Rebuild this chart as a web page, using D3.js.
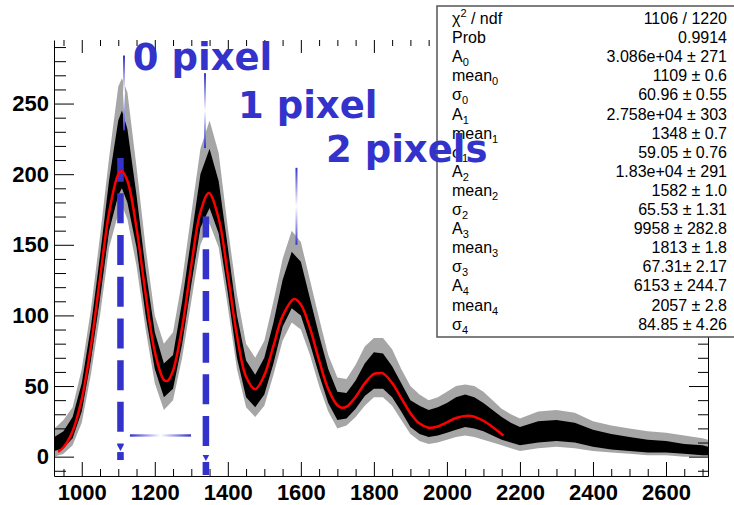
<!DOCTYPE html>
<html>
<head>
<meta charset="utf-8">
<script src="https://cdn.jsdelivr.net/npm/d3@7"></script>
<style>
  body { margin: 0; background: #fff; }
  svg { display: block; }
</style>
</head>
<body>
<svg id="chart" width="734" height="505"></svg>
<script>
// histogram envelope (counts): outer spikes and dense core
const histX       = [925, 950, 975, 1000, 1025, 1050, 1075, 1100, 1110, 1125, 1150, 1175, 1200, 1225, 1250, 1275, 1300, 1325, 1350, 1375, 1400, 1425, 1450, 1475, 1500, 1525, 1550, 1575, 1600, 1625, 1650, 1675, 1700, 1725, 1750, 1775, 1800, 1825, 1850, 1875, 1900, 1925, 1950, 1975, 2000, 2025, 2050, 2075, 2100, 2125, 2150, 2175, 2200, 2250, 2300, 2350, 2400, 2450, 2500, 2550, 2600, 2650, 2700, 2715];
const histSpikeLo = [0, 2, 8, 24, 58, 100, 148, 172, 178, 168, 135, 90, 52, 33, 40, 70, 110, 150, 165, 148, 106, 62, 35, 28, 36, 58, 82, 95, 90, 72, 50, 32, 20, 22, 28, 36, 42, 42, 36, 26, 16, 11, 9, 10, 12, 14, 15, 14, 12, 10, 8, 6, 4, 6, 7, 6, 4, 3, 2, 1, 1, 0, 0, 0];
const histLo      = [4, 6, 13, 32, 68, 112, 160, 185, 190, 180, 148, 100, 62, 42, 48, 80, 122, 162, 176, 158, 116, 70, 42, 35, 44, 66, 92, 105, 100, 80, 58, 38, 26, 27, 34, 43, 48, 48, 42, 32, 21, 16, 14, 15, 17, 19, 21, 20, 18, 15, 12, 10, 8, 10, 11, 10, 7, 5, 4, 3, 3, 2, 1, 1];
const histHi      = [14, 18, 28, 52, 92, 142, 196, 238, 245, 232, 185, 132, 88, 66, 72, 110, 155, 200, 218, 195, 148, 100, 68, 58, 70, 95, 125, 145, 138, 112, 86, 62, 46, 45, 54, 66, 74, 73, 64, 52, 40, 36, 33, 35, 38, 42, 44, 42, 38, 33, 28, 24, 21, 25, 26, 24, 19, 16, 14, 12, 11, 9, 8, 7];
const histSpikeHi = [20, 26, 35, 62, 104, 156, 212, 262, 268, 258, 205, 148, 100, 80, 88, 125, 172, 218, 238, 215, 162, 115, 80, 70, 82, 110, 140, 160, 152, 125, 98, 72, 56, 55, 65, 78, 84, 84, 76, 62, 50, 44, 40, 42, 46, 50, 51, 50, 46, 40, 34, 30, 27, 32, 33, 31, 25, 22, 20, 18, 17, 15, 13, 12];

// red fit curve
const fitX = [935, 950, 975, 1000, 1025, 1050, 1075, 1100, 1109, 1125, 1150, 1175, 1200, 1225, 1235, 1250, 1275, 1300, 1325, 1348, 1375, 1400, 1425, 1450, 1475, 1500, 1525, 1550, 1582, 1600, 1625, 1650, 1675, 1700, 1712, 1725, 1750, 1775, 1800, 1813, 1825, 1850, 1875, 1900, 1925, 1950, 1975, 2000, 2025, 2057, 2075, 2100, 2125, 2155];
const fitY = [3.4, 6.7, 18.0, 40.8, 78.2, 126.4, 172.9, 199.8, 202.0, 195.3, 161.8, 114.9, 74.4, 54.3, 53.7, 60.9, 91.7, 135.4, 173.1, 186.6, 168.6, 128.8, 85.9, 56.6, 47.8, 57.7, 78.4, 99.5, 111.6, 107.7, 91.0, 68.2, 47.9, 36.4, 34.7, 35.4, 42.3, 51.9, 58.6, 59.0, 58.9, 52.2, 41.5, 30.8, 23.4, 20.5, 21.4, 24.3, 27.4, 29.0, 28.3, 25.4, 21.0, 14.9];

const xTickValues = [1000, 1200, 1400, 1600, 1800, 2000, 2200, 2400, 2600];
const yTickValues = [0, 50, 100, 150, 200, 250];

const statLabels = ["χ", "Prob", "A", "mean", "σ", "A", "mean", "σ", "A", "mean", "σ", "A", "mean", "σ", "A", "mean", "σ"];
const statSubs   = ["", "", "0", "0", "0", "1", "1", "1", "2", "2", "2", "3", "3", "3", "4", "4", "4"];
const statValues = ["1106 / 1220", "0.9914", "3.086e+04 ± 271", "1109 ± 0.6", "60.96 ± 0.55", "2.758e+04 ± 303", "1348 ± 0.7", "59.05 ± 0.76", "1.83e+04 ± 291", "1582 ± 1.0", "65.53 ± 1.31", "9958 ± 282.8", "1813 ± 1.8", "67.31± 2.17", "6153 ± 244.7", "2057 ± 2.8", "84.85 ± 4.26"];

// annotations (data units)
const peakArrows = [
  { x: 1106, top: 211.5, tip: 8.2, end: -2.4, offset: 6.3 },
  { x: 1340, top: 170, tip: 1.2, end: -13, offset: 9 }
];
const glowBars = [
  { x1: 1115.7, x2: 1115.7, y1: 284, y2: 231 },
  { x1: 1337.5, x2: 1337.5, y1: 271.5, y2: 218.5 },
  { x1: 1588, x2: 1588, y1: 204.5, y2: 150 },
  { x1: 1132, x2: 1299, y1: 15, y2: 15 }
];
const pixelLabels = [
  { text: "0 pixel", x: 1140, y: 273.8 },
  { text: "1 pixel", x: 1428, y: 240 },
  { text: "2 pixels", x: 1669, y: 208.5 }
];

const BLUE = "#3333cc";
const FRAME = { left: 54, right: 708, top: 40, bottom: 476 };

const svg = d3.select("#chart");
const x = d3.scaleLinear().domain([924, 2715]).range([FRAME.left, FRAME.right]);
const y = d3.scaleLinear().domain([-13.7, 295]).range([FRAME.bottom, FRAME.top]);

const defs = svg.append("defs");
const vGrad = defs.append("linearGradient").attr("id", "glowV").attr("x1", 0).attr("y1", 0).attr("x2", 0).attr("y2", 1);
const hGrad = defs.append("linearGradient").attr("id", "glowH").attr("x1", 0).attr("y1", 0).attr("x2", 1).attr("y2", 0);
[vGrad, hGrad].forEach(g => {
  g.append("stop").attr("offset", "0%").attr("stop-color", BLUE);
  g.append("stop").attr("offset", "50%").attr("stop-color", "#ffffff");
  g.append("stop").attr("offset", "100%").attr("stop-color", BLUE);
});

// histogram band
const hist = histX.map((d, i) => ({ x: d, slo: histSpikeLo[i], lo: histLo[i], hi: histHi[i], shi: histSpikeHi[i] }));
svg.append("path")
  .datum(hist)
  .attr("fill", "#a6a6a6")
  .attr("d", d3.area().x(d => x(d.x)).y0(d => y(d.slo)).y1(d => y(d.shi)));
svg.append("path")
  .datum(hist)
  .attr("fill", "#000")
  .attr("d", d3.area().x(d => x(d.x)).y0(d => y(d.lo)).y1(d => y(d.hi)));

// axes
const tickFont = g => g.attr("font-family", "'Liberation Sans', Arial, sans-serif")
  .attr("font-weight", "bold").attr("font-size", 22);
const minorX = d3.range(950, 2715, 50).filter(v => !xTickValues.includes(v));
const minorY = d3.range(-10, 295, 10).filter(v => !yTickValues.includes(v));

svg.append("g").attr("transform", `translate(0,${FRAME.bottom})`)
  .call(d3.axisBottom(x).tickValues(xTickValues).tickSize(-14).tickSizeOuter(0).tickPadding(8).tickFormat(d3.format("d")))
  .call(tickFont)
  .call(g => g.selectAll("text").attr("fill", "#000"));
svg.append("g").attr("transform", `translate(0,${FRAME.bottom})`)
  .call(d3.axisBottom(x).tickValues(minorX).tickSize(-7).tickFormat(""))
  .call(g => g.select(".domain").remove());

svg.append("g").attr("transform", `translate(0,${FRAME.top})`)
  .call(d3.axisBottom(x).tickValues(xTickValues).tickSize(13).tickFormat(""))
  .call(g => g.select(".domain").remove());
svg.append("g").attr("transform", `translate(0,${FRAME.top})`)
  .call(d3.axisBottom(x).tickValues(minorX).tickSize(6).tickFormat(""))
  .call(g => g.select(".domain").remove());

svg.append("g").attr("transform", `translate(${FRAME.left},0)`)
  .call(d3.axisLeft(y).tickValues(yTickValues).tickSize(-20).tickSizeOuter(0).tickPadding(5).tickFormat(d3.format("d")))
  .call(tickFont);
svg.append("g").attr("transform", `translate(${FRAME.left},0)`)
  .call(d3.axisLeft(y).tickValues(minorY).tickSize(-12).tickFormat(""))
  .call(g => g.select(".domain").remove());

svg.append("g").attr("transform", `translate(${FRAME.right},0)`)
  .call(d3.axisLeft(y).tickValues(yTickValues).tickSize(19).tickSizeOuter(0).tickFormat(""));
svg.append("g").attr("transform", `translate(${FRAME.right},0)`)
  .call(d3.axisLeft(y).tickValues(minorY).tickSize(10).tickFormat(""))
  .call(g => g.select(".domain").remove());

// blue dashed arrows at the peaks
peakArrows.forEach(a => {
  const px = x(a.x);
  svg.append("line")
    .attr("x1", px).attr("x2", px)
    .attr("y1", y(a.top)).attr("y2", y(a.tip))
    .attr("stroke", BLUE).attr("stroke-width", 6.5)
    .attr("stroke-dasharray", "30 11.7").attr("stroke-dashoffset", a.offset);
  const ty = y(a.tip);
  svg.append("path")
    .attr("d", `M${px - 3.3},${ty}L${px + 3.3},${ty}L${px},${ty + 6}Z`)
    .attr("fill", BLUE);
  svg.append("rect")
    .attr("x", px - 3.3).attr("width", 6.6)
    .attr("y", ty + 7).attr("height", y(a.end) - ty - 7)
    .attr("fill", BLUE);
});

// thin highlighted bars
glowBars.forEach(b => {
  const vertical = b.x1 === b.x2;
  const x0 = Math.min(x(b.x1), x(b.x2)), y0 = Math.min(y(b.y1), y(b.y2));
  svg.append("rect")
    .attr("x", vertical ? x0 - 1 : x0)
    .attr("y", vertical ? y0 : y0 - 1.2)
    .attr("width", vertical ? 2 : Math.abs(x(b.x2) - x(b.x1)))
    .attr("height", vertical ? Math.abs(y(b.y2) - y(b.y1)) : 2.4)
    .attr("fill", vertical ? "url(#glowV)" : "url(#glowH)");
});

// fit curve
svg.append("path")
  .datum(fitX.map((d, i) => [d, fitY[i]]))
  .attr("fill", "none")
  .attr("stroke", "#ff0000")
  .attr("stroke-width", 2.5)
  .attr("d", d3.line().x(d => x(d[0])).y(d => y(d[1])).curve(d3.curveCatmullRom));

// stats box
const box = svg.append("g").attr("font-family", "'Liberation Sans', Arial, sans-serif").attr("font-size", 16).attr("fill", "#000");
box.append("rect").attr("x", 437).attr("y", 6).attr("width", 310).attr("height", 331)
  .attr("fill", "#fff").attr("stroke", "#555").attr("stroke-width", 1.5);
statLabels.forEach((lab, i) => {
  const ty = 24 + i * 19.1;
  const t = box.append("text").attr("x", 452).attr("y", ty);
  t.append("tspan").text(lab);
  if (i === 0) {
    t.append("tspan").attr("font-size", 11).attr("dy", -7).text("2");
    t.append("tspan").attr("dy", 7).text(" / ndf");
  } else if (statSubs[i]) {
    t.append("tspan").attr("font-size", 11).attr("dy", 4).text(statSubs[i]);
  }
  box.append("text").attr("x", 727).attr("y", ty).attr("text-anchor", "end").text(statValues[i]);
});

// blue annotation text
svg.append("g")
  .selectAll("text")
  .data(pixelLabels)
  .join("text")
  .attr("x", d => x(d.x))
  .attr("y", d => y(d.y))
  .attr("font-family", "'DejaVu Sans', Verdana, sans-serif")
  .attr("font-weight", "bold")
  .attr("font-size", 37)
  .attr("fill", BLUE)
  .text(d => d.text);
</script>
</body>
</html>
